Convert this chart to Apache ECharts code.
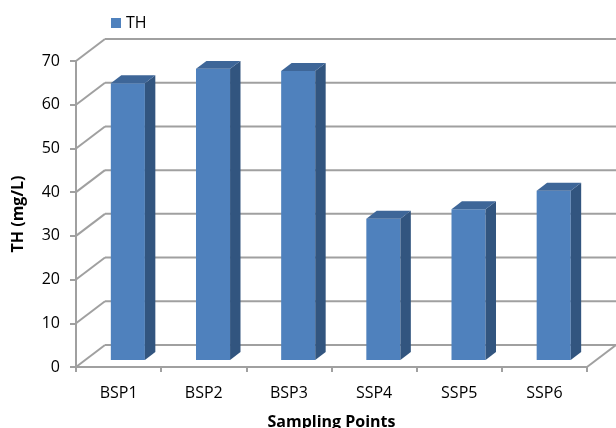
<!DOCTYPE html>
<html>
<head>
<meta charset="utf-8">
<script src="https://cdn.jsdelivr.net/npm/echarts@6/dist/echarts.min.js"></script>
<style>
  html, body { margin: 0; padding: 0; background: #fff; }
  #chart { width: 616px; height: 428px; }
</style>
</head>
<body>
<div id="chart"></div>
<script>
// Sampling points and total hardness (mg/L)
const categories = ['BSP1', 'BSP2', 'BSP3', 'SSP4', 'SSP5', 'SSP6'];
const thValues = [63.3, 66.6, 66.1, 32.3, 34.5, 38.7];
const yTicks = [0, 10, 20, 30, 40, 50, 60, 70];

// Oblique depth of the 3-D box (pixels) and bar placement inside it
const DEPTH_X = 29;
const DEPTH_Y = -22;
const BAR_FRONT = 0.32;   // fraction of the depth where the bar's front face sits
const BAR_DEPTH = 0.36;   // fraction of the depth the bar occupies
const BAR_WIDTH = 0.40;   // fraction of a category band

const GRID_COLOR = '#a0a0a0';
const FONT = '"Open Sans", "Liberation Sans", sans-serif';

const chart = echarts.init(document.getElementById('chart'), null, { renderer: 'canvas' });

// Back wall grid lines, side-wall diagonals and floor edges
function renderWalls(params, api) {
  const v = api.value(0);
  const cs = params.coordSys;
  const front = api.coord([0, v]);
  const y = front[1];
  const xl = cs.x;
  const xr = cs.x + cs.width;
  const children = [
    { type: 'line', shape: { x1: xl, y1: y, x2: xl + DEPTH_X, y2: y + DEPTH_Y } },
    { type: 'line', shape: { x1: xl + DEPTH_X, y1: y + DEPTH_Y, x2: xr + DEPTH_X, y2: y + DEPTH_Y } }
  ];
  if (v === 0) {
    children.push({ type: 'line', shape: { x1: xr, y1: y, x2: xr + DEPTH_X, y2: y + DEPTH_Y } });
  }
  children.forEach(c => { c.style = { stroke: GRID_COLOR, lineWidth: 2, fill: null }; c.silent = true; });
  return { type: 'group', children: children };
}

// 3-D box bars: front face, top and right side
function renderBar(params, api) {
  const idx = api.value(0);
  const val = api.value(1);
  const base = api.coord([idx, 0]);
  const top = api.coord([idx, val]);
  const band = api.size([1, 0])[0];
  const w = band * BAR_WIDTH;
  const ox = DEPTH_X * BAR_FRONT, oy = DEPTH_Y * BAR_FRONT;
  const dx = DEPTH_X * BAR_DEPTH, dy = DEPTH_Y * BAR_DEPTH;
  const x0 = base[0] - w / 2 + ox;
  const x1 = x0 + w;
  const yb = base[1] + oy;
  const yt = top[1] + oy;
  return {
    type: 'group',
    children: [
      { type: 'rect', shape: { x: x0, y: yt, width: w, height: yb - yt },
        style: { fill: '#4f81bd' } },
      { type: 'polygon', shape: { points: [[x1, yt], [x1 + dx, yt + dy], [x1 + dx, yb + dy], [x1, yb]] },
        style: { fill: '#32557f' } },
      { type: 'polygon', shape: { points: [[x0, yt], [x0 + dx, yt + dy], [x1 + dx, yt + dy], [x1, yt]] },
        style: { fill: '#3e6698' } }
    ]
  };
}

chart.setOption({
  animation: false,
  backgroundColor: '#fff',
  textStyle: { fontFamily: FONT },
  legend: {
    data: ['TH'],
    left: 106,
    top: 10,
    icon: 'rect',
    itemWidth: 10,
    itemHeight: 10,
    itemGap: 5,
    textStyle: { fontSize: 16, color: '#000', fontFamily: FONT }
  },
  grid: { left: 76, right: 29, top: 61, bottom: 61, outerBoundsMode: 'none', containLabel: false },
  xAxis: {
    type: 'category',
    data: categories,
    boundaryGap: true,
    axisLine: { show: true, lineStyle: { color: GRID_COLOR, width: 2 } },
    axisTick: { show: true, length: 5, alignWithLabel: false, lineStyle: { color: GRID_COLOR, width: 2 } },
    axisLabel: { color: '#000', fontSize: 16, margin: 18, fontFamily: FONT },
    splitLine: { show: false },
    name: 'Sampling Points',
    nameLocation: 'middle',
    nameGap: 47,
    nameTextStyle: { color: '#000', fontSize: 16, fontWeight: 'bold', fontFamily: FONT }
  },
  yAxis: {
    type: 'value',
    min: 0,
    max: 70,
    interval: 10,
    axisLine: { show: true, lineStyle: { color: GRID_COLOR, width: 2 } },
    axisTick: { show: true, length: 6, lineStyle: { color: GRID_COLOR, width: 2 } },
    axisLabel: { color: '#000', fontSize: 16, margin: 16, fontFamily: FONT },
    splitLine: { show: false },
    name: 'TH (mg/L)',
    nameLocation: 'middle',
    nameGap: 50,
    nameTextStyle: { color: '#000', fontSize: 16, fontWeight: 'bold', fontFamily: FONT }
  },
  series: [
    {
      type: 'custom',
      name: 'walls',
      renderItem: renderWalls,
      data: yTicks.map(t => [t]),
      encode: { y: 0 },
      silent: true,
      z: 1
    },
    {
      type: 'custom',
      name: 'TH',
      renderItem: renderBar,
      data: thValues.map((v, i) => [i, v]),
      encode: { x: 0, y: 1 },
      itemStyle: { color: '#4f81bd' },
      z: 2
    }
  ]
});
</script>
</body>
</html>
